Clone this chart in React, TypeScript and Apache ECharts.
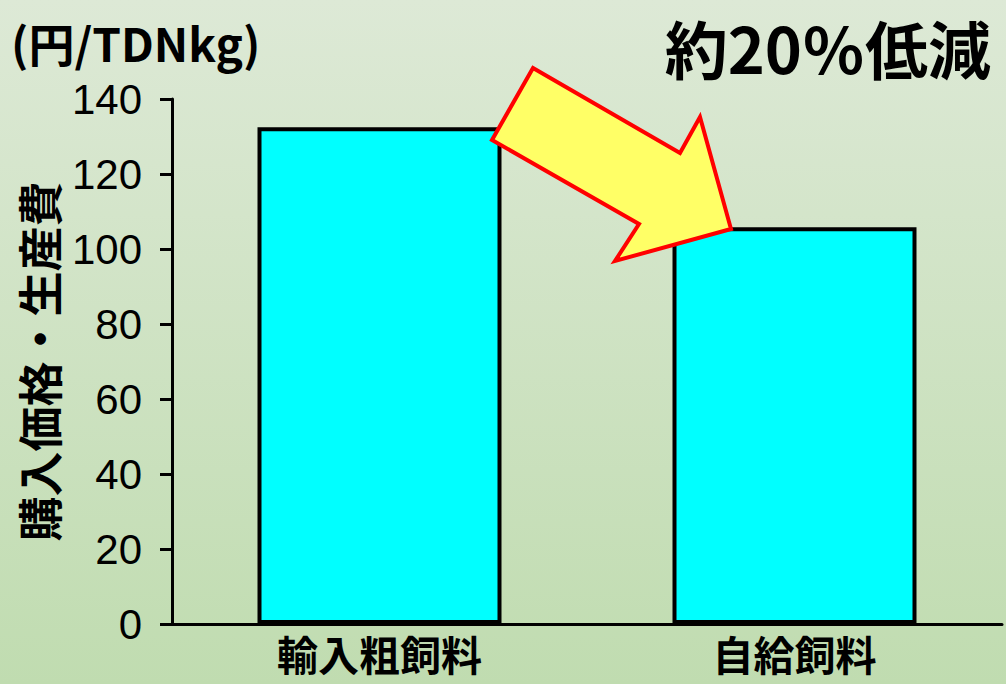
import React, { useEffect, useRef } from "react";
import * as echarts from "echarts";

const categories = ["輸入粗飼料", "自給飼料"];
const values = [132.5, 105.8];
const yMin = 0;
const yMax = 140;
const yInterval = 20;
const unitLabel = "(円/TDNkg)";
const yAxisName = "購入価格・生産費";
const headline = "約20％低減";

const FONT = "'Liberation Sans', 'Noto Sans CJK JP', sans-serif";
const CJK = "'Noto Sans CJK JP', 'Liberation Sans', sans-serif";

export default function App() {
  const ref = useRef<HTMLDivElement>(null);
  useEffect(() => {
    if (!ref.current) return;
    const chart = echarts.init(ref.current, null, { renderer: "svg" });
    chart.setOption({
      animation: false,
      backgroundColor: {
        type: "linear",
        x: 0, y: 0, x2: 0, y2: 1,
        colorStops: [
          { offset: 0, color: "#dde9d6" },
          { offset: 1, color: "#c0dcb0" },
        ],
      },
      grid: { left: 172, right: 4, top: 99, bottom: 60, containLabel: false },
      title: [
        {
          text: unitLabel,
          left: 6, top: 14,
          textStyle: { fontFamily: CJK, fontSize: 46, fontWeight: "bold", color: "#000" },
        },
        {
          text: headline,
          right: 10, top: 10,
          textStyle: { fontFamily: CJK, fontSize: 63, fontWeight: "bold", color: "#000" },
        },
      ],
      xAxis: {
        type: "category",
        data: categories,
        axisLine: { lineStyle: { color: "#000", width: 3 } },
        axisTick: { show: false },
        axisLabel: {
          fontFamily: CJK, fontSize: 41, fontWeight: "bold", color: "#000", margin: 8,
        },
      },
      yAxis: {
        type: "value",
        min: yMin, max: yMax, interval: yInterval,
        name: yAxisName,
        nameLocation: "middle",
        nameRotate: 90,
        nameGap: 106,
        nameTextStyle: { fontFamily: CJK, fontSize: 45, fontWeight: "bold", color: "#000" },
        axisLine: { show: true, lineStyle: { color: "#000", width: 3 } },
        axisTick: { show: true, length: 12, lineStyle: { color: "#000", width: 3 } },
        axisLabel: { fontFamily: FONT, fontSize: 42, color: "#000", margin: 30 },
        splitLine: { show: false },
      },
      series: [
        {
          type: "bar",
          data: values,
          barWidth: 244,
          itemStyle: { color: "#00ffff", borderColor: "#000", borderWidth: 4 },
        },
      ],
      graphic: [
        {
          type: "polygon",
          shape: {
            points: [
              [533, 68], [680, 153], [700, 117], [731, 229],
              [615, 261], [639, 224], [492, 140],
            ],
          },
          style: { fill: "#ffff66", stroke: "#ff0000", lineWidth: 4, lineJoin: "miter" },
          z: 100,
        },
      ],
    });
    return () => chart.dispose();
  }, []);
  return (
    <div
      ref={ref}
      style={{ position: "fixed", left: 0, top: 0, width: 1006, height: 684 }}
    />
  );
}
